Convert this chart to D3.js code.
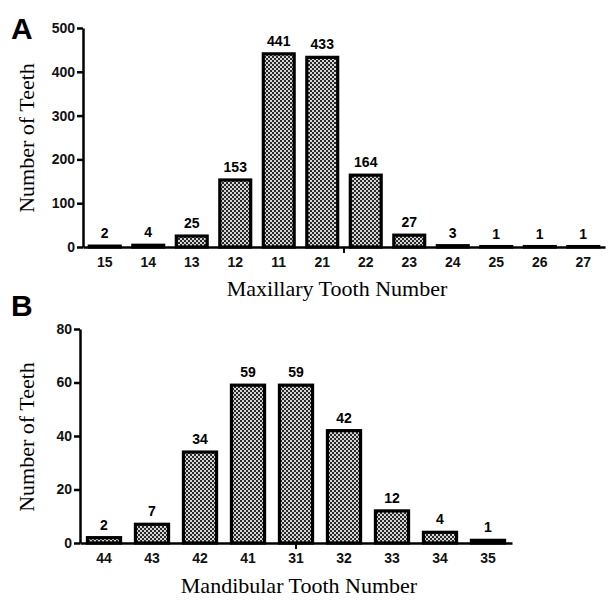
<!DOCTYPE html>
<html>
<head>
<meta charset="utf-8">
<script src="https://cdn.jsdelivr.net/npm/d3@7"></script>
<style>
  body { margin: 0; background: white; }
  svg { display: block; }
  .tick text { font-family: "Liberation Sans", Arial, sans-serif; font-weight: bold; font-size: 14px; fill: #111; }
</style>
</head>
<body>
<div id="vizContainer"></div>
<script>
let w = 608;
let h = 600;

// panel A: maxillary teeth
let maxTeeth = ["15", "14", "13", "12", "11", "21", "22", "23", "24", "25", "26", "27"];
let maxCounts = [2, 4, 25, 153, 441, 433, 164, 27, 3, 1, 1, 1];
let maxTicks = [0, 100, 200, 300, 400, 500];

// panel B: mandibular teeth
let mandTeeth = ["44", "43", "42", "41", "31", "32", "33", "34", "35"];
let mandCounts = [2, 7, 34, 59, 59, 42, 12, 4, 1];
let mandTicks = [0, 20, 40, 60, 80];

let viz = d3.select("#vizContainer").append("svg")
	.attr("width", w)
	.attr("height", h)
	.style("background-color", "white");

// checker fill for bars
let defs = viz.append("defs");
let pat = defs.append("pattern")
	.attr("id", "checker")
	.attr("patternUnits", "userSpaceOnUse")
	.attr("width", 4)
	.attr("height", 4);
pat.append("rect").attr("width", 4).attr("height", 4).attr("fill", "#d4d4d4");
pat.append("rect").attr("width", 2).attr("height", 2).attr("fill", "#2a2a2a");
pat.append("rect").attr("x", 2).attr("y", 2).attr("width", 2).attr("height", 2).attr("fill", "#2a2a2a");

function drawPanel(opt) {
	let g = viz.append("g").attr("class", "panel");

	let xScale = d3.scaleBand()
		.domain(opt.cats)
		.range([opt.left, opt.right])
		.paddingInner(opt.pad)
		.paddingOuter(opt.pad / 2);
	let yScale = d3.scaleLinear()
		.domain([0, d3.max(opt.ticks)])
		.range([opt.bottom, opt.top]);

	// bars
	g.selectAll(".bar").data(opt.vals).enter().append("rect")
		.attr("class", "bar")
		.attr("x", (d, i) => xScale(opt.cats[i]))
		.attr("y", d => yScale(d))
		.attr("width", xScale.bandwidth())
		.attr("height", d => opt.bottom - yScale(d))
		.attr("fill", "url(#checker)")
		.attr("stroke", "#000")
		.attr("stroke-width", 3.2);

	// value labels
	g.selectAll(".val").data(opt.vals).enter().append("text")
		.attr("class", "val")
		.attr("x", (d, i) => xScale(opt.cats[i]) + xScale.bandwidth() / 2)
		.attr("y", d => yScale(d) - 8)
		.attr("text-anchor", "middle")
		.style("font-family", "Liberation Sans, Arial, sans-serif")
		.style("font-weight", "bold")
		.style("font-size", "14px")
		.text(d => d);

	// y axis
	let yAxis = g.append("g")
		.attr("transform", "translate(" + opt.left + ",0)")
		.call(d3.axisLeft(yScale).tickValues(opt.ticks).tickSize(6).tickSizeOuter(0).tickPadding(2));
	yAxis.selectAll("line").attr("stroke", "#000").attr("stroke-width", 2.5);
	yAxis.select(".domain").attr("stroke", "#000").attr("stroke-width", 2.5);

	// x axis
	let xAxis = g.append("g")
		.attr("transform", "translate(0," + opt.bottom + ")")
		.call(d3.axisBottom(xScale).tickSize(0).tickSizeOuter(0).tickPadding(10));
	xAxis.select(".domain").attr("stroke", "#000").attr("stroke-width", 2.5);

	// the single small mark under the axis
	let markX = xScale(opt.markCat) + xScale.bandwidth() / 2 + opt.markShift * xScale.step();
	g.append("line")
		.attr("x1", markX).attr("x2", markX)
		.attr("y1", opt.bottom).attr("y2", opt.bottom + 6)
		.attr("stroke", "#000").attr("stroke-width", 2);

	// axis titles
	g.append("text")
		.attr("x", opt.xTitleX)
		.attr("y", opt.xTitleY)
		.attr("text-anchor", "middle")
		.style("font-family", "Liberation Serif, Times New Roman, serif")
		.style("font-size", "22px")
		.text(opt.xTitle);
	g.append("text")
		.attr("transform", "translate(34," + opt.yTitleY + ") rotate(-90)")
		.attr("text-anchor", "middle")
		.style("font-family", "Liberation Serif, Times New Roman, serif")
		.style("font-size", "22px")
		.text("Number of Teeth");

	// panel letter
	g.append("text")
		.attr("x", 11)
		.attr("y", opt.letterY)
		.style("font-family", "Liberation Sans, Arial, sans-serif")
		.style("font-weight", "bold")
		.style("font-size", "30px")
		.text(opt.letter);
}

drawPanel({
	cats: maxTeeth, vals: maxCounts, ticks: maxTicks,
	left: 83, right: 605, top: 28, bottom: 247, pad: 0.29,
	markCat: "21", markShift: 0.5,
	xTitle: "Maxillary Tooth Number", xTitleX: 337, xTitleY: 296, yTitleY: 138,
	letter: "A", letterY: 39
});

drawPanel({
	cats: mandTeeth, vals: mandCounts, ticks: mandTicks,
	left: 80, right: 512, top: 329, bottom: 543, pad: 0.31,
	markCat: "31", markShift: 0,
	xTitle: "Mandibular Tooth Number", xTitleX: 299, xTitleY: 593, yTitleY: 437,
	letter: "B", letterY: 316
});
</script>
</body>
</html>
